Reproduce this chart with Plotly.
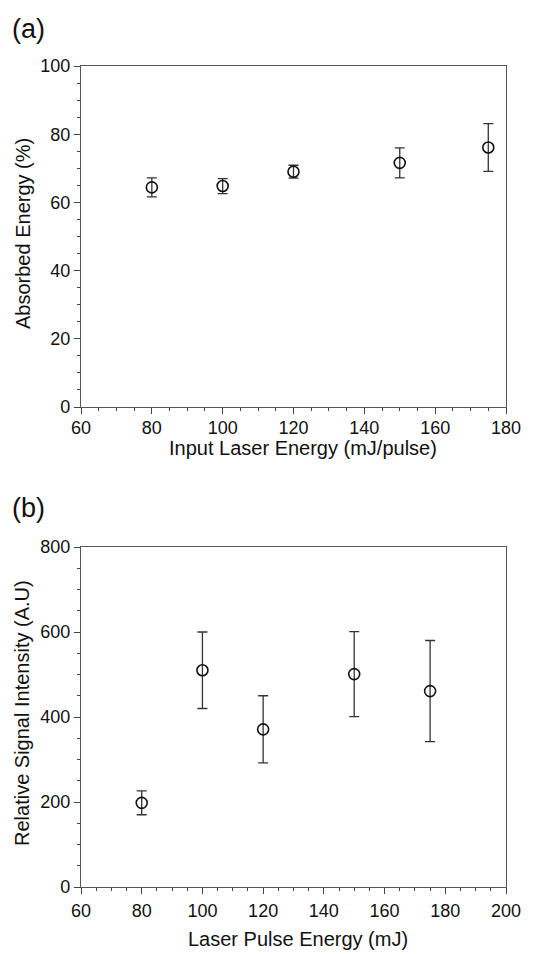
import plotly.graph_objects as go

# Panel (a)
a_x = [80, 100, 120, 150, 175]
a_y = [64.4, 64.8, 69.0, 71.6, 76.1]
a_err = [2.8, 2.2, 1.9, 4.4, 7.0]

# Panel (b)
b_x = [80, 100, 120, 150, 175]
b_y = [198, 510, 371, 501, 461]
b_err = [28, 90, 79, 100, 119]

FONT = "Liberation Sans, Arial, sans-serif"
W, H = 559, 954

fig = go.Figure()

marker = dict(symbol="circle-open", size=11, color="#111", line=dict(width=1.6, color="#111"))

fig.add_trace(go.Scatter(
    x=a_x, y=a_y, mode="markers", marker=marker,
    error_y=dict(type="data", array=a_err, visible=True, color="#333", thickness=1.3, width=5),
    xaxis="x", yaxis="y", showlegend=False))

fig.add_trace(go.Scatter(
    x=b_x, y=b_y, mode="markers", marker=marker,
    error_y=dict(type="data", array=b_err, visible=True, color="#333", thickness=1.3, width=5),
    xaxis="x2", yaxis="y2", showlegend=False))

L, R = 81, 506
xdom = [L / W, R / W]
ya_dom = [1 - 407 / H, 1 - 66 / H]
yb_dom = [1 - 887 / H, 1 - 547 / H]

axis_common = dict(
    showline=True, linecolor="#555", linewidth=1.2, mirror=True,
    ticks="outside", ticklen=6, tickwidth=1.2, tickcolor="#444",
    showgrid=False, zeroline=False, automargin=False,
    tickfont=dict(family=FONT, size=18, color="#111"),
)
minor_common = dict(ticks="outside", ticklen=3, tickwidth=1, tickcolor="#444", showgrid=False)

TF = dict(family=FONT, size=20, color="#111")

fig.update_layout(
    width=W, height=H,
    margin=dict(l=0, r=0, t=0, b=0),
    paper_bgcolor="white", plot_bgcolor="white",
    xaxis=dict(domain=xdom, anchor="y", range=[60, 180], tick0=60, dtick=20,
               minor=dict(dtick=5, **minor_common), ticklabelstandoff=-2, **axis_common),
    yaxis=dict(domain=ya_dom, anchor="x", range=[0, 100], tick0=0, dtick=20,
               minor=dict(dtick=5, **minor_common), **axis_common),
    xaxis2=dict(domain=xdom, anchor="y2", range=[60, 200], tick0=60, dtick=20,
                minor=dict(dtick=5, **minor_common), ticklabelstandoff=1, **axis_common),
    yaxis2=dict(domain=yb_dom, anchor="x2", range=[0, 800], tick0=0, dtick=200,
                minor=dict(dtick=50, **minor_common), **axis_common),
    annotations=[
        dict(text="(a)", x=10 / W, y=1 - 29 / H, xref="paper", yref="paper",
             xanchor="left", yanchor="middle", showarrow=False,
             font=dict(family=FONT, size=27, color="#111")),
        dict(text="(b)", x=10 / W, y=1 - 508 / H, xref="paper", yref="paper",
             xanchor="left", yanchor="middle", showarrow=False,
             font=dict(family=FONT, size=27, color="#111")),
        dict(text="Absorbed Energy (%)", x=23 / W, y=1 - 234 / H, xref="paper", yref="paper",
             xanchor="center", yanchor="middle", textangle=-90, showarrow=False, font=TF),
        dict(text="Relative Signal Intensity (A.U)", x=22 / W, y=1 - 713 / H, xref="paper", yref="paper",
             xanchor="center", yanchor="middle", textangle=-90, showarrow=False, font=TF),
        dict(text="Input Laser Energy (mJ/pulse)", x=303 / W, y=1 - 448 / H, xref="paper", yref="paper",
             xanchor="center", yanchor="middle", showarrow=False, font=TF),
        dict(text="Laser Pulse Energy (mJ)", x=298 / W, y=1 - 939 / H, xref="paper", yref="paper",
             xanchor="center", yanchor="middle", showarrow=False, font=TF),
    ],
)

fig.write_html("out.html", config={"displayModeBar": False},
               post_script="document.body.style.margin='0';")
